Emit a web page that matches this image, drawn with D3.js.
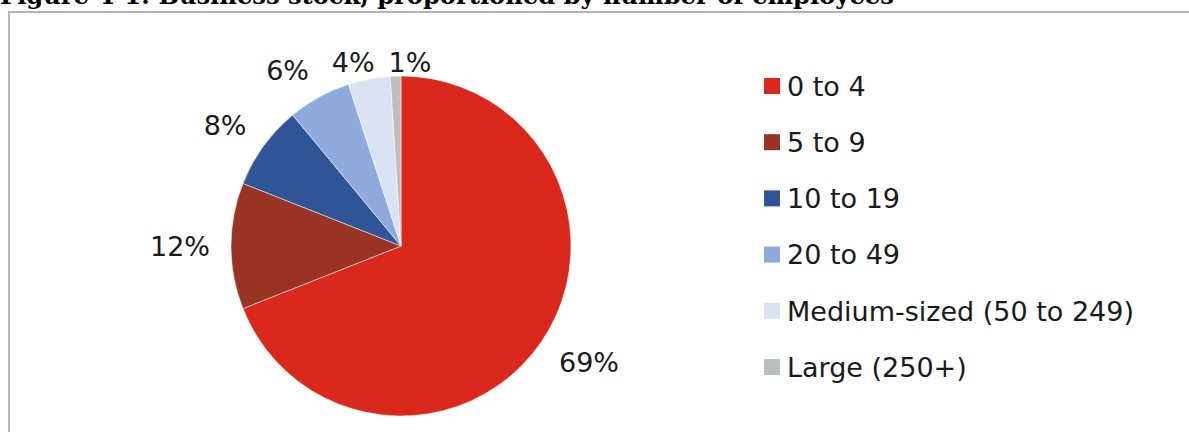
<!DOCTYPE html>
<html>
<head>
<meta charset="utf-8">
<script src="https://cdn.jsdelivr.net/npm/d3@7/dist/d3.min.js"></script>
<style>
  html, body { margin: 0; padding: 0; background: #fff; }
  svg { display: block; }
</style>
</head>
<body>
<svg id="chart" width="1189" height="432"></svg>
<script>
// Business stock by size band (share of all businesses, %)
const categories = ["0 to 4", "5 to 9", "10 to 19", "20 to 49", "Medium-sized (50 to 249)", "Large (250+)"];
const shares = [69, 12, 8, 6, 4, 1];
const colors = ["#DA291C", "#993323", "#2F5597", "#8FAADC", "#DAE3F3", "#BCBEC0"];
const title = "Figure 4-1: Business stock, proportioned by number of employees";

const W = 1189, H = 432;
const svg = d3.select("#chart");
const font = "'DejaVu Sans', sans-serif";
const fontSize = 27;
const capHalf = 9.8;

// Title (sits partly above the top edge)
svg.append("text")
  .attr("x", 0).attr("y", 4)
  .attr("font-family", "'DejaVu Serif', serif")
  .attr("font-weight", "bold")
  .attr("font-size", 24.2)
  .attr("fill", "#000")
  .text(title);

// Chart frame
svg.append("rect")
  .attr("x", 9).attr("y", 12)
  .attr("width", W + 20).attr("height", H)
  .attr("fill", "none")
  .attr("stroke", "#B4B4B4")
  .attr("stroke-width", 2);

// Pie
const cx = 401, cy = 246, r = 170;
const plotTop = 52;
const data = categories.map((c, i) => ({ name: c, value: shares[i], color: colors[i] }));
const pie = d3.pie().sort(null).value(d => d.value).startAngle(0).endAngle(2 * Math.PI);
const arcs = pie(data);
const arc = d3.arc().innerRadius(0).outerRadius(r);

const g = svg.append("g").attr("transform", `translate(${cx},${cy})`);
g.selectAll("path")
  .data(arcs)
  .join("path")
  .attr("d", arc)
  .attr("fill", d => d.data.color)
  .attr("stroke", "#fff")
  .attr("stroke-width", 0.5);

// Percentage labels outside the slice ends: the label box corner nearest
// the pie sits on a ring just outside the rim
const fmt = d3.format(".0%");
const ring = r + 21, boxHalfH = 8.7;
const soft = v => Math.max(-1, Math.min(1, v * 3));
const labels = g.selectAll("text.pct")
  .data(arcs)
  .join("text")
  .attr("class", "pct")
  .attr("font-family", font)
  .attr("font-size", fontSize)
  .attr("fill", "#1a1a1a")
  .attr("text-anchor", "middle")
  .text(d => fmt(d.data.value / 100));

const boxes = [];
labels.each(function (d) {
  const w = this.getComputedTextLength();
  const a = (d.startAngle + d.endAngle) / 2;
  const s = Math.sin(a), c = Math.cos(a);
  let x = s * ring + soft(s) * w / 2;
  let y = -c * ring - soft(c) * boxHalfH;
  // keep labels inside the plot area
  y = Math.max(y, plotTop + capHalf - cy);
  // keep neighbouring labels from overlapping
  const prev = boxes[boxes.length - 1];
  if (prev && Math.abs(prev.y - y) < 2 * capHalf + 4 && Math.abs(prev.x - x) < (prev.w + w) / 2) {
    x = prev.x + (prev.w + w) / 2 + 14;
  }
  boxes.push({ x, y, w });
  d3.select(this).attr("x", x).attr("y", y + capHalf);
});

// Legend
const legendX = 764, legendY0 = 86, legendStep = 56.2, sw = 16;
const legend = svg.append("g");
const rows = legend.selectAll("g")
  .data(data)
  .join("g")
  .attr("transform", (d, i) => `translate(${legendX},${legendY0 + i * legendStep})`);
rows.append("rect")
  .attr("x", 0).attr("y", -sw / 2)
  .attr("width", sw).attr("height", sw)
  .attr("fill", d => d.color);
rows.append("text")
  .attr("x", 23).attr("y", capHalf)
  .attr("font-family", font)
  .attr("font-size", fontSize)
  .attr("fill", "#1a1a1a")
  .text(d => d.name);
</script>
</body>
</html>
